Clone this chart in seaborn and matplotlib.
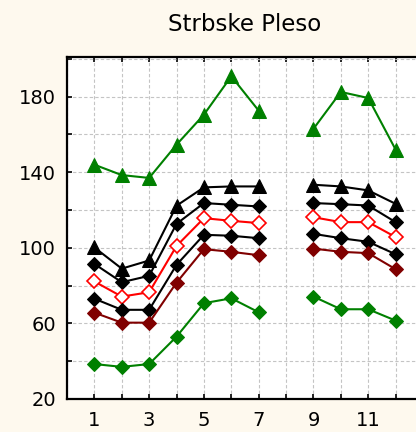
import matplotlib
matplotlib.use("Agg")
import matplotlib.pyplot as plt
import seaborn as sns
import pandas as pd
import numpy as np
from matplotlib.ticker import MultipleLocator, FixedLocator

months = [1, 2, 3, 4, 5, 6, 7, 9, 10, 11, 12]
segment = [0, 0, 0, 0, 0, 0, 0, 1, 1, 1, 1]

green_max = [144, 138.5, 137, 154.6, 170.5, 190.8, 172.6, 163, 182.5, 179.3, 152]
black_tri = [100.2, 89, 93.3, 122.3, 132, 132.5, 132.5, 133.4, 132.5, 130.4, 123.3]
black_d1 = [91.5, 81.8, 85.2, 112.7, 123.7, 122.8, 121.9, 123.7, 123.1, 122.4, 113.6]
red_open = [82.2, 74.2, 76.5, 101, 115.7, 114.3, 113.1, 116.2, 113.6, 113.6, 105.7]
black_d2 = [73.1, 67.2, 67.2, 91, 106.9, 106.4, 105.1, 107.4, 105.1, 103.2, 96.6]
darkred = [65.7, 60.4, 60.4, 81.6, 99.3, 97.9, 96.1, 99.6, 97.9, 97.2, 88.7]
green_min = [38.5, 37, 38.5, 53, 70.7, 73.3, 65.9, 74.2, 67.5, 67.5, 61.5]

title = "Strbske Pleso"
ytick_labels = [20, 60, 100, 140, 180]
xtick_labels = [1, 3, 5, 7, 9, 11]

sns.set_style("white")
plt.rcParams["font.family"] = ["DejaVu Sans"]
plt.rcParams["text.color"] = "black"

fig = plt.figure(figsize=(4.16, 4.32), dpi=100, facecolor="#FEF9EE")
ax = fig.add_axes([67 / 416, 33 / 432, 356 / 416, 342 / 432])
ax.set_facecolor("white")

ms_d = 7.5
ms_t = 9.5
series = [
    (green_max, dict(color="#008000", marker="^", markersize=ms_t, mfc="#008000", mec="#008000")),
    (black_tri, dict(color="black", marker="^", markersize=ms_t, mfc="black", mec="black")),
    (black_d1, dict(color="black", marker="D", markersize=ms_d, mfc="black", mec="black")),
    (red_open, dict(color="#FF0000", marker="D", markersize=ms_d, mfc="white", mec="#FF0000", mew=1.2)),
    (black_d2, dict(color="black", marker="D", markersize=ms_d, mfc="black", mec="black")),
    (darkred, dict(color="#800000", marker="D", markersize=ms_d, mfc="#800000", mec="#800000")),
    (green_min, dict(color="#008000", marker="D", markersize=ms_d, mfc="#008000", mec="#008000")),
]

for vals, kw in series:
    df = pd.DataFrame({"x": months, "y": vals, "seg": segment})
    sns.lineplot(data=df, x="x", y="y", units="seg", estimator=None, sort=False,
                 ax=ax, linewidth=1.5, zorder=3, legend=False, **kw)

ax.set_xlim(0, 13)
ax.set_ylim(20, 201)
ax.xaxis.set_major_locator(FixedLocator(xtick_labels))
ax.xaxis.set_minor_locator(MultipleLocator(1))
ax.yaxis.set_major_locator(FixedLocator(ytick_labels))
ax.yaxis.set_minor_locator(MultipleLocator(20))

ax.grid(True, which="both", color="#c4c4c4", linestyle=(0, (3, 2)), linewidth=0.8, zorder=0)
ax.set_axisbelow(True)

ax.tick_params(axis="both", which="both", direction="in", length=3.5, width=1.2,
               top=True, bottom=True, left=True, right=False, color="black",
               labelcolor="black")
ax.tick_params(axis="x", which="major", labelsize=14, pad=9)
ax.tick_params(axis="y", which="major", labelsize=14, pad=8)
for s in ["left", "bottom", "top"]:
    ax.spines[s].set_visible(True)
    ax.spines[s].set_color("black")
    ax.spines[s].set_linewidth(1.6)
ax.spines["right"].set_visible(False)

ax.set_xlabel("")
ax.set_ylabel("")
ax.set_title(title, fontsize=16.5, pad=19, color="black")

fig.savefig("out.png", dpi=100, facecolor=fig.get_facecolor())
